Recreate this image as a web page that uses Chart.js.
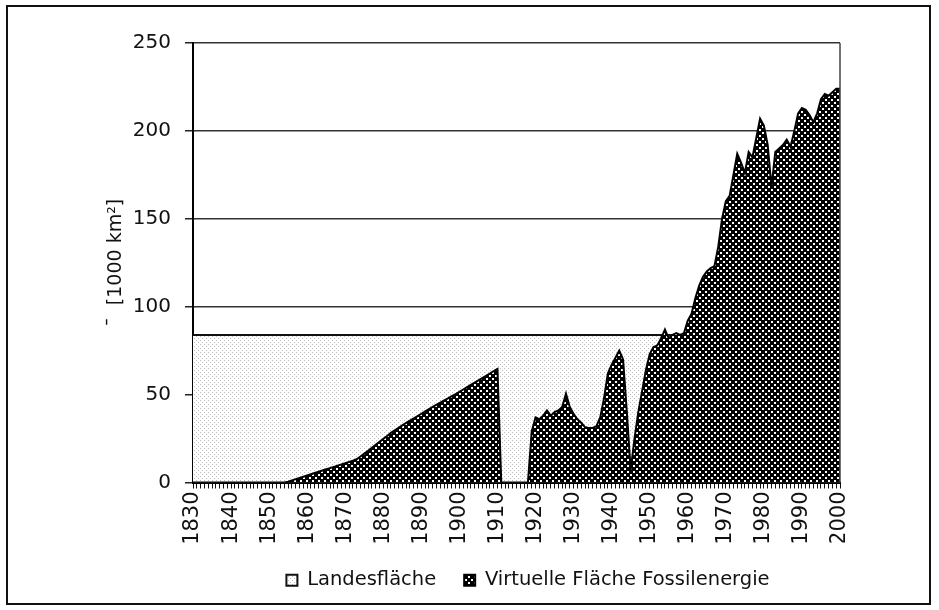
<!DOCTYPE html>
<html lang="de">
<head>
    <meta charset="UTF-8">
    <title>Landesfläche und virtuelle Fläche Fossilenergie</title>
    <script src="https://cdn.jsdelivr.net/npm/chart.js"></script>
    <style>
        body { margin: 0; background: #fff; }
        #frame {
            position: absolute; left: 6px; top: 5px;
            width: 921px; height: 596px;
            border: 2px solid #111;
        }
        #wrap { position: absolute; left: 0; top: 0; width: 939px; height: 610px; }
    </style>
</head>
<body>
    <div id="frame"></div>
    <div id="wrap"><canvas id="chart"></canvas></div>
    <script>
        // Kategorien: Jahre 1830 bis 2000
        const years = [];
        for (let y = 1830; y <= 2000; y++) years.push(y);

        // Landesfläche [1000 km²]
        const landesflaecheWert = 83.9;
        const landesflaeche = years.map(() => landesflaecheWert);

        // Virtuelle Fläche Fossilenergie [1000 km²]
        const fossil1830 = [
            0, 0, 0, 0, 0, 0, 0, 0, 0, 0,
            0, 0, 0, 0, 0, 0, 0, 0, 0, 0,
            0, 0, 0, 0, 0
        ];
        const fossil1855 = [
            0.5, 1.2, 1.9, 2.6, 3.3, 4.0, 4.7, 5.4, 6.1, 6.8,
            7.5, 8.2, 8.9, 9.6, 10.3, 11.0, 11.7, 12.4, 13.2, 14.8,
            16.4, 18.0, 19.7, 21.4, 23.1, 24.8, 26.5, 28.2, 29.7, 31.1,
            32.5, 33.9, 35.2, 36.5, 37.8, 39.1, 40.4, 41.7, 43.0, 44.3,
            45.5, 46.7, 47.9, 49.1, 50.3, 51.6, 52.9, 54.2, 55.5, 56.8,
            58.1, 59.4, 60.7, 62.0, 63.3, 64.6
        ];
        const fossil1911 = [0, 0, 0, 0, 0, 0, 0, 0];
        const fossil1919 = [
            29, 37, 36, 38, 41, 38, 40, 41, 43, 50.5,
            43, 39, 36, 34, 31.5, 31, 31, 32, 37, 48,
            62, 67, 71, 75, 70, 40, 7, 25, 40, 52,
            64, 73
        ];
        const fossil1951 = [
            77, 78, 82, 87, 82, 84, 85, 84, 85, 92,
            96, 105, 112, 117, 120, 122, 123, 134, 150, 160,
            163, 175, 187, 182, 176, 188, 185, 196, 207, 203,
            192, 168, 188, 190, 192, 195, 191, 200, 210, 213,
            212, 209, 205, 210, 218, 221, 220, 222, 224, 224
        ];
        const fossil = [].concat(fossil1830, fossil1855, fossil1911, fossil1919, fossil1951);

        const yTicks = [0, 50, 100, 150, 200, 250];

        const canvas = document.getElementById('chart');
        const ctx = canvas.getContext('2d');

        // Füllmuster
        function makePattern(size, bg, fg, dots, dot) {
            const t = document.createElement('canvas');
            t.width = size; t.height = size;
            const g = t.getContext('2d');
            g.fillStyle = bg;
            g.fillRect(0, 0, size, size);
            g.fillStyle = fg;
            dots.forEach(d => g.fillRect(d[0], d[1], dot, dot));
            return ctx.createPattern(t, 'repeat');
        }
        const landPattern = makePattern(4, '#ffffff', '#bcbcbc', [[0, 0], [2, 2]], 1);
        const fossilPattern = makePattern(6, '#000000', '#ffffff', [[0, 0], [3, 3]], 2);

        const font = 'DejaVu Sans, sans-serif';

        new Chart(ctx, {
            type: 'line',
            data: {
                labels: years,
                datasets: [{
                    label: 'Landesfläche',
                    data: landesflaeche,
                    backgroundColor: landPattern,
                    borderColor: '#111',
                    borderWidth: 2,
                    fill: 'origin',
                    pointRadius: 0,
                    order: 2
                }, {
                    label: 'Virtuelle Fläche Fossilenergie',
                    data: fossil,
                    backgroundColor: fossilPattern,
                    borderColor: '#000',
                    borderWidth: 2,
                    fill: 'origin',
                    pointRadius: 0,
                    order: 1
                }]
            },
            options: {
                responsive: true,
                maintainAspectRatio: false,
                animation: false,
                layout: { padding: { left: 100, right: 99, top: 43, bottom: 10 } },
                plugins: {
                    tooltip: { enabled: false },
                    legend: {
                        position: 'bottom',
                        labels: {
                            sort: (a, b) => a.datasetIndex - b.datasetIndex,
                            boxWidth: 11,
                            boxHeight: 11,
                            padding: 28,
                            color: '#111',
                            font: { family: font, size: 19.5 }
                        }
                    }
                },
                scales: {
                    x: {
                        type: 'category',
                        offset: false,
                        afterFit: (scale) => { scale.height = 60; },
                        grid: {
                            offset: false,
                            drawOnChartArea: false,
                            color: '#111',
                            tickLength: 6,
                            tickWidth: 1
                        },
                        border: { color: '#000', width: 2 },
                        ticks: {
                            autoSkip: false,
                            maxRotation: 90,
                            minRotation: 90,
                            padding: 3,
                            color: '#111',
                            font: { family: font, size: 21 },
                            callback: (val, i) => years[i] % 10 === 0 ? String(years[i]) : ''
                        }
                    },
                    y: {
                        min: 0,
                        max: 250,
                        afterFit: (scale) => { scale.width = 93; },
                        afterBuildTicks: (scale) => { scale.ticks = yTicks.map(v => ({ value: v })); },
                        grid: {
                            color: '#333',
                            lineWidth: 1.5,
                            tickLength: 8,
                            tickColor: '#222'
                        },
                        border: { color: '#000', width: 2 },
                        ticks: {
                            padding: 14,
                            color: '#111',
                            font: { family: font, size: 20 }
                        },
                        title: {
                            display: true,
                            text: '¯  [1000 km²]',
                            color: '#111',
                            padding: { top: 5, bottom: 0 },
                            font: { family: font, size: 19 }
                        }
                    }
                }
            },
            plugins: [{
                id: 'legendShift',
                afterLayout(chart) {
                    // Legende unter der Zeichenfläche zentrieren
                    const lg = chart.legend;
                    lg.left += 58;
                    lg.right += 58;
                }
            }, {
                id: 'rightEdge',
                afterDatasetsDraw(chart) {
                    const a = chart.chartArea;
                    const c = chart.ctx;
                    c.save();
                    c.strokeStyle = '#444';
                    c.lineWidth = 1.5;
                    c.beginPath();
                    c.moveTo(a.right, a.top);
                    c.lineTo(a.right, a.bottom);
                    c.stroke();
                    c.restore();
                }
            }]
        });
    </script>
</body>
</html>
